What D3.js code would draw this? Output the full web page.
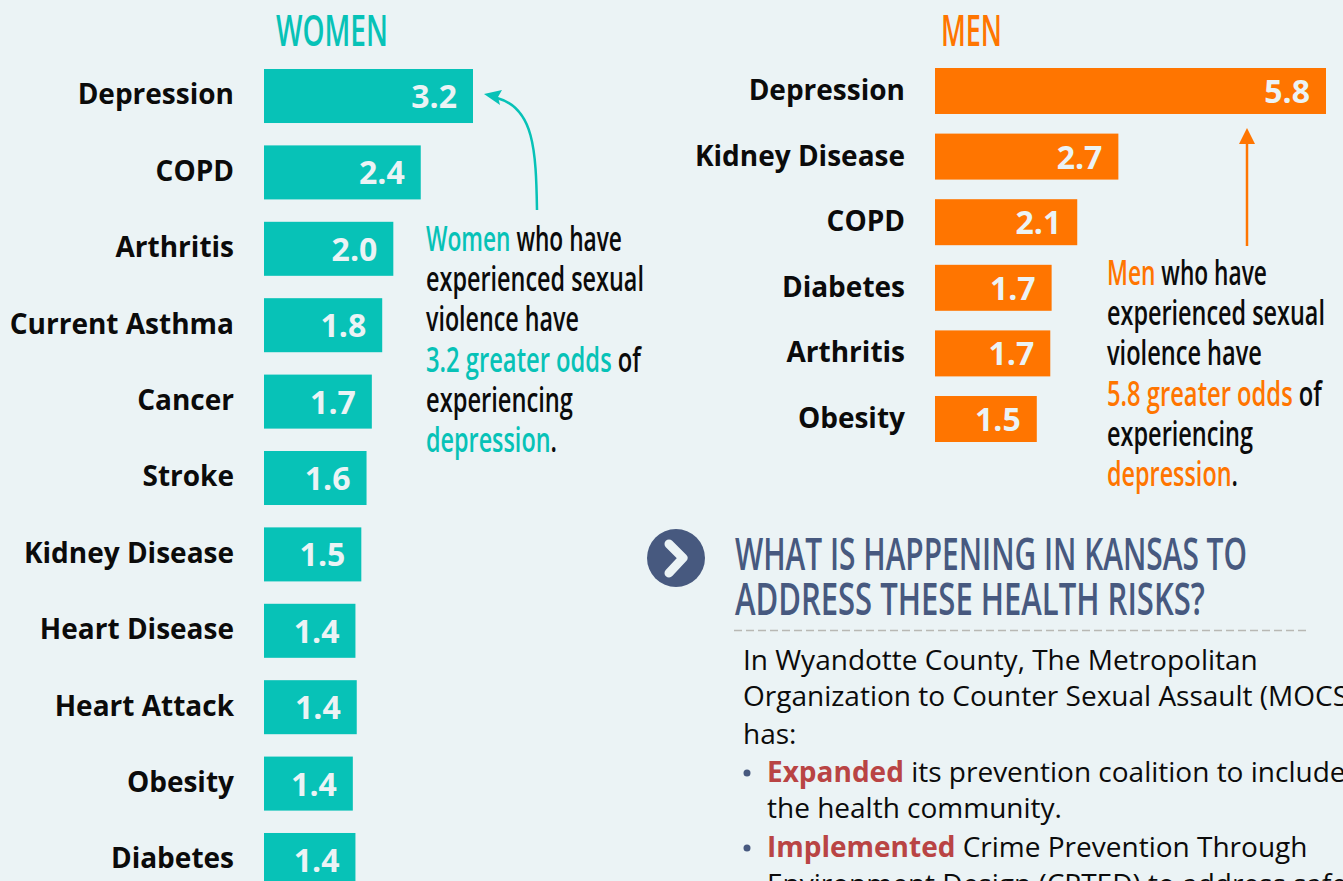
<!DOCTYPE html>
<html>
<head>
<meta charset="utf-8">
<script src="https://cdn.jsdelivr.net/npm/d3@7/dist/d3.min.js"></script>
<style>
  html, body { margin: 0; padding: 0; background: #ebf3f5; overflow: hidden; }
  svg { display: block; }
  .axis text { font-family: "Open Sans"; font-weight: 700; font-size: 28px; fill: #0b0b0b; }
  .val { font-family: "Open Sans"; font-weight: 700; font-size: 32px; fill: #ebf3f5; text-anchor: end; }
  .cond { font-family: "Open Sans"; font-weight: 600; }
  .body { font-family: "Open Sans"; font-size: 28px; fill: #0b0b0b; }
</style>
</head>
<body>
<svg id="chart" width="1343" height="881"></svg>
<script>
const womenCategories = ['Depression', 'COPD', 'Arthritis', 'Current Asthma', 'Cancer', 'Stroke', 'Kidney Disease', 'Heart Disease', 'Heart Attack', 'Obesity', 'Diabetes'];
const womenValues = [3.2, 2.4, 1.98, 1.81, 1.651, 1.57, 1.49, 1.40, 1.42, 1.36, 1.40];
const menCategories = ['Depression', 'Kidney Disease', 'COPD', 'Diabetes', 'Arthritis', 'Obesity'];
const menValues = [5.8, 2.72, 2.11, 1.73, 1.71, 1.51];

const teal = '#07c2b7';
const orange = '#ff7500';
const navy = '#47597f';
const red = '#b94444';
const ink = '#0b0b0b';

const womenNote = [
  [['Women', teal], [' who have', ink]],
  [['experienced sexual', ink]],
  [['violence have', ink]],
  [['3.2 greater odds', teal], [' of', ink]],
  [['experiencing', ink]],
  [['depression', teal], ['.', ink]]
];
const menNote = [
  [['Men', orange], [' who have', ink]],
  [['experienced sexual', ink]],
  [['violence have', ink]],
  [['5.8 greater odds', orange], [' of', ink]],
  [['experiencing', ink]],
  [['depression', orange], ['.', ink]]
];
const womenNoteWidths = [196, 218, 153, 215, 147, 131];
const menNoteWidths = [160, 218, 155, 215, 146, 131];

const svg = d3.select('#chart');

// squeezed text, stands in for the condensed display face
function condensed (parent, x, y, size, width, runs) {
  const t = parent.append('text')
    .attr('class', 'cond')
    .attr('font-size', size)
    .attr('xml:space', 'preserve');
  runs.forEach(r => {
    t.append('tspan').attr('fill', r[1]).text(r[0]);
  });
  const natural = t.node().getComputedTextLength();
  t.attr('transform', `translate(${x},${y}) scale(${width / natural},1)`);
  return t;
}

function drawBars (cfg) {
  const x = d3.scaleLinear().domain([0, cfg.maxValue]).range([cfg.x0, cfg.x1]);
  const y = d3.scaleBand().domain(cfg.categories).range(cfg.yRange).paddingInner(cfg.gap);

  svg.selectAll('rect.' + cfg.name)
    .data(cfg.values)
    .join('rect')
    .attr('class', cfg.name)
    .attr('x', x(0))
    .attr('y', (d, i) => y(cfg.categories[i]))
    .attr('width', d => x(d) - x(0))
    .attr('height', y.bandwidth())
    .attr('fill', cfg.color);

  svg.selectAll('text.val.' + cfg.name)
    .data(cfg.values)
    .join('text')
    .attr('class', 'val ' + cfg.name)
    .attr('x', d => x(d) - cfg.valueInset)
    .attr('y', (d, i) => y(cfg.categories[i]) + y.bandwidth() / 2 + 12)
    .text(d => d3.format('.1f')(d));

  const axis = svg.append('g')
    .attr('class', 'axis')
    .attr('transform', `translate(${cfg.x0 - 30},${cfg.labelShift})`)
    .call(d3.axisLeft(y).tickSize(0).tickPadding(0));
  axis.select('.domain').remove();
}

drawBars({
  name: 'women', categories: womenCategories, values: womenValues, maxValue: 3.2,
  x0: 264, x1: 473, yRange: [69, 887], gap: 0.293, color: teal, valueInset: 16, labelShift: -0.5
});
drawBars({
  name: 'men', categories: menCategories, values: menValues, maxValue: 5.8,
  x0: 935, x1: 1326, yRange: [68, 442], gap: 0.299, color: orange, valueInset: 16, labelShift: 0
});

condensed(svg, 276, 46, 44, 112, [['WOMEN', teal]]);
condensed(svg, 941, 46, 44, 61, [['MEN', orange]]);

womenNote.forEach((line, i) => {
  condensed(svg, 426, 251 + i * 40.2, 34, womenNoteWidths[i], line);
});
menNote.forEach((line, i) => {
  condensed(svg, 1107, 285 + i * 40.2, 34, menNoteWidths[i], line);
});

// arrows
svg.append('path')
  .attr('d', 'M537,210 C536,150 534,108 497,98')
  .attr('fill', 'none').attr('stroke', teal).attr('stroke-width', 2.5);
svg.append('path')
  .attr('d', 'M484,94 L502,90 L498,97 L500,105 Z')
  .attr('fill', teal);
svg.append('line')
  .attr('x1', 1247).attr('x2', 1247).attr('y1', 246).attr('y2', 142)
  .attr('stroke', orange).attr('stroke-width', 2.5);
svg.append('path')
  .attr('d', 'M1247,128 L1255,144 L1239,144 Z')
  .attr('fill', orange);

// heading block
svg.append('circle').attr('cx', 676).attr('cy', 558).attr('r', 29).attr('fill', navy);
svg.append('path')
  .attr('d', 'M669,544 L683,558 L669,573')
  .attr('fill', 'none').attr('stroke', '#ebf3f5').attr('stroke-width', 9)
  .attr('stroke-linecap', 'round').attr('stroke-linejoin', 'round');
condensed(svg, 735, 570, 46, 512, [['WHAT IS HAPPENING IN KANSAS TO', navy]]);
condensed(svg, 735, 615, 46, 470, [['ADDRESS THESE HEALTH RISKS?', navy]]);
svg.append('line')
  .attr('x1', 734).attr('x2', 1310).attr('y1', 630.5).attr('y2', 630.5)
  .attr('stroke', '#b8b8b4').attr('stroke-width', 1.5).attr('stroke-dasharray', '8,4');

const bodyLines = [
  [743, 670, [['In Wyandotte County, The Metropolitan', false]]],
  [743, 706, [['Organization to Counter Sexual Assault (MOCSA)', false]]],
  [743, 744, [['has:', false]]],
  [767, 782, [['Expanded', true], [' its prevention coalition to include', false]]],
  [767, 818, [['the health community.', false]]],
  [767, 857, [['Implemented', true], [' Crime Prevention Through', false]]],
  [767, 894, [['Environment Design (CPTED) to address safety', false]]]
];
bodyLines.forEach(l => {
  const t = svg.append('text').attr('class', 'body').attr('x', l[0]).attr('y', l[1]).attr('xml:space', 'preserve');
  l[2].forEach(r => {
    const s = t.append('tspan').text(r[0]);
    if (r[1]) s.attr('font-weight', 700).attr('fill', red);
  });
});
[773, 848].forEach(cy => {
  svg.append('circle').attr('cx', 747).attr('cy', cy).attr('r', 3.5).attr('fill', navy);
});
</script>
</body>
</html>
